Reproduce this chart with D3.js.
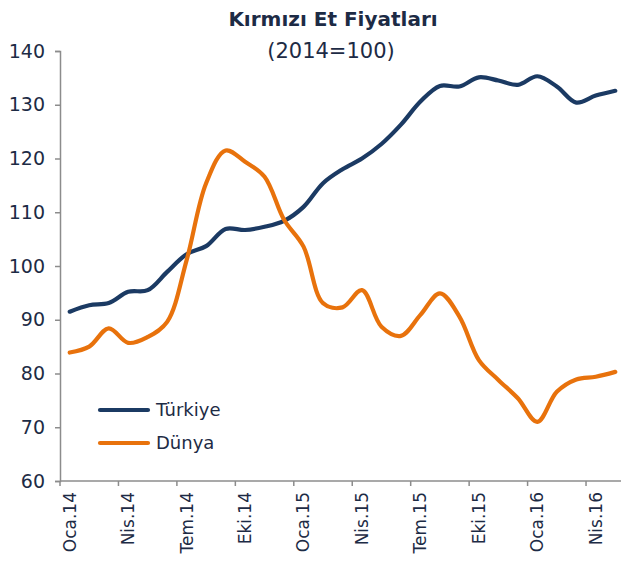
<!DOCTYPE html>
<html>
<head>
<meta charset="utf-8">
<script src="https://cdn.jsdelivr.net/npm/d3@7"></script>
<style>
  body { margin: 0; background: #fff; }
  text { font-family: "DejaVu Sans", sans-serif; fill: #1d2b45; }
</style>
</head>
<body>
<div id="my_dataviz"></div>
<script>
// months Jan 2014 - May 2016
var months = ["Oca.14","Şub.14","Mar.14","Nis.14","May.14","Haz.14","Tem.14","Ağu.14","Eyl.14","Eki.14","Kas.14","Ara.14",
              "Oca.15","Şub.15","Mar.15","Nis.15","May.15","Haz.15","Tem.15","Ağu.15","Eyl.15","Eki.15","Kas.15","Ara.15",
              "Oca.16","Şub.16","Mar.16","Nis.16","May.16"];
var turkiye = [91.5, 92.7, 93.1, 95.2, 95.5, 98.9, 102.2, 103.7, 106.9, 106.7, 107.3, 108.4,
               111.0, 115.4, 118.0, 120.0, 122.7, 126.3, 130.6, 133.5, 133.4, 135.1, 134.5, 133.7,
               135.3, 133.4, 130.4, 131.7, 132.6];
var dunya = [83.9, 85.0, 88.4, 85.7, 86.8, 89.6, 101.1, 115.4, 121.5, 119.4, 116.6, 108.6,
             103.6, 93.1, 92.3, 95.5, 88.7, 87.0, 90.9, 94.9, 90.6, 82.5, 78.8, 75.4,
             71.0, 76.6, 78.9, 79.4, 80.3];
var yTicks = [60, 70, 80, 90, 100, 110, 120, 130, 140];
var seriesNames = ["Türkiye", "Dünya"];
var colors = ["#1b3a63", "#e8720c"];

var W = 621, H = 561;
var margin = {top: 51, left: 60, bottom: 80};
var plotRight = 625;

var svg = d3.select("#my_dataviz")
  .append("svg")
    .attr("width", W)
    .attr("height", H);

// scales
var x = d3.scaleBand()
  .domain(months)
  .range([margin.left, plotRight])
  .padding(0);
var y = d3.scaleLinear()
  .domain([60, 140])
  .range([H - margin.bottom, margin.top]);

// title
svg.append("text")
  .attr("x", 333).attr("y", 26)
  .attr("text-anchor", "middle")
  .style("font-size", "20px")
  .style("font-weight", "bold")
  .text("Kırmızı Et Fiyatları");
svg.append("text")
  .attr("x", 331).attr("y", 58)
  .attr("text-anchor", "middle")
  .style("font-size", "21px")
  .text("(2014=100)");

// Y axis
var yAxis = svg.append("g")
  .attr("transform", "translate(" + margin.left + ",0)")
  .call(d3.axisLeft(y).tickValues(yTicks).tickSize(5).tickPadding(10));
yAxis.selectAll("text").style("font-size", "19px");

// X axis: ticks at band edges every 3 months, labels at band centres
var xg = svg.append("g")
  .attr("transform", "translate(0," + y(60) + ")");
xg.append("line")
  .attr("x1", margin.left).attr("x2", W)
  .attr("stroke", "#8c8c8c").attr("stroke-width", 1.5);
var labelled = months.filter(function(d, i) { return i % 3 === 0; });
xg.selectAll("line.tick")
  .data(labelled)
  .enter().append("line")
  .attr("class", "tick")
  .attr("x1", function(d) { return x(d); })
  .attr("x2", function(d) { return x(d); })
  .attr("y1", 0).attr("y2", 5)
  .attr("stroke", "#8c8c8c").attr("stroke-width", 1.5);
xg.selectAll("text")
  .data(labelled)
  .enter().append("text")
  .attr("transform", function(d) {
    return "translate(" + (x(d) + x.bandwidth() / 2) + ",11) rotate(-90)";
  })
  .attr("dy", "0.35em")
  .attr("text-anchor", "end")
  .style("font-size", "17px")
  .text(function(d) { return d; });

yAxis.select(".domain").attr("stroke", "#8c8c8c").attr("stroke-width", 1.5);
yAxis.selectAll(".tick line").attr("stroke", "#8c8c8c").attr("stroke-width", 1.5);

// lines
var line = d3.line()
  .x(function(d, i) { return x(months[i]) + x.bandwidth() / 2; })
  .y(function(d) { return y(d); })
  .curve(d3.curveCatmullRom.alpha(0.5));

[turkiye, dunya].forEach(function(s, k) {
  svg.append("path")
    .datum(s)
    .attr("fill", "none")
    .attr("stroke", colors[k])
    .attr("stroke-width", 4.2)
    .attr("stroke-linecap", "round")
    .attr("stroke-linejoin", "round")
    .attr("d", line);
});

// legend
var legend = svg.append("g");
seriesNames.forEach(function(name, k) {
  var ly = 410 + k * 33;
  legend.append("line")
    .attr("x1", 100).attr("x2", 148)
    .attr("y1", ly).attr("y2", ly)
    .attr("stroke", colors[k])
    .attr("stroke-width", 4.2)
    .attr("stroke-linecap", "round");
  legend.append("text")
    .attr("x", 156).attr("y", ly)
    .attr("dy", "0.35em")
    .style("font-size", "18px")
    .text(name);
});
</script>
</body>
</html>
